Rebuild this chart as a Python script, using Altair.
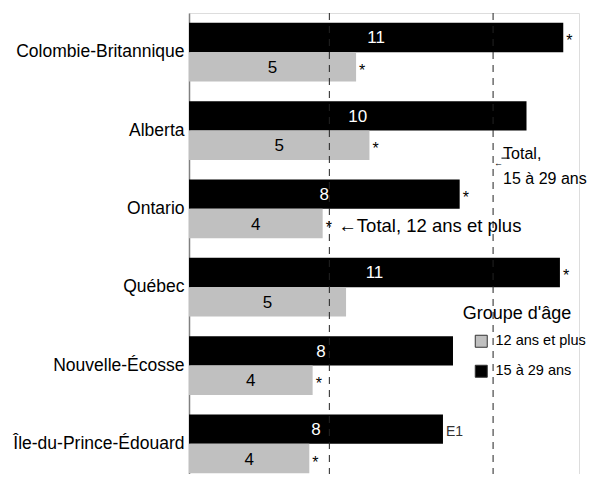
import altair as alt
import pandas as pd

FONT = "Liberation Sans"

provinces = ["Colombie-Britannique", "Alberta", "Ontario", "Québec",
             "Nouvelle-Écosse", "Île-du-Prince-Édouard"]
groups = ["12 ans et plus", "15 à 29 ans"]
age_15_29 = [11.2, 10.1, 8.1, 11.1, 7.9, 7.6]
age_12_plus = [5.0, 5.4, 4.0, 4.7, 3.7, 3.6]
flags_15_29 = ["*", "", "*", "*", "", "E1"]
flags_12_plus = ["*", "*", "*", "", "*", "*"]
total_12_plus = 4.2
total_15_29 = 9.1

rows = []
for p, v, f in zip(provinces, age_15_29, flags_15_29):
    rows.append({"province": p, "group": groups[1], "value": v, "flag": f})
for p, v, f in zip(provinces, age_12_plus, flags_12_plus):
    rows.append({"province": p, "group": groups[0], "value": v, "flag": f})
df = pd.DataFrame(rows)

totals_df = pd.DataFrame({"value": [total_12_plus, total_15_29]})

y_enc = alt.Y("province:N", sort=provinces,
              scale=alt.Scale(paddingInner=0.25, paddingOuter=0.125, range=[0, 470]),
              axis=alt.Axis(title=None, domainColor="#808080", domainWidth=1.5,
                            ticks=False, labelFontSize=17.5, labelFont=FONT,
                            labelColor="#000000", labelPadding=5, labelLimit=400))
yoff = alt.YOffset("group:N", sort=[groups[1], groups[0]])
x_enc = alt.X("value:Q", scale=alt.Scale(domain=[0, 12], range=[0, 401]), axis=None)
y_plain = alt.Y("province:N", sort=provinces)

base = alt.Chart(df)

bars = base.mark_bar().encode(
    x=x_enc, y=y_enc, yOffset=yoff,
    color=alt.Color("group:N",
                    scale=alt.Scale(domain=groups, range=["#c0c0c0", "#000000"]),
                    legend=alt.Legend(title=None, orient="none", legendX=285, legendY=321,
                                      symbolType="square", symbolSize=144,
                                      symbolStrokeColor="#333333", symbolStrokeWidth=1,
                                      labelFont=FONT, labelFontSize=14.5, labelColor="#000000",
                                      labelOffset=7, rowPadding=13, padding=0)),
)

values = base.transform_calculate(mid="datum.value / 2").mark_text(
    font=FONT, fontSize=17, baseline="middle", align="center", dy=1
).encode(
    x=alt.X("mid:Q"), y=y_plain, yOffset=yoff,
    text=alt.Text("value:Q", format=".0f"),
    color=alt.condition(alt.datum.group == groups[1], alt.value("white"), alt.value("black")),
)

stars = base.transform_filter(alt.datum.flag == "*").mark_text(
    font=FONT, fontSize=16, align="left", baseline="middle", dx=3, dy=4, color="#000000"
).encode(x="value:Q", y=y_plain, yOffset=yoff, text="flag:N")

e1 = base.transform_filter(alt.datum.flag == "E1").mark_text(
    font=FONT, fontSize=14, align="left", baseline="middle", dx=3, dy=3, color="#333333"
).encode(x="value:Q", y=y_plain, yOffset=yoff, text="flag:N")

rules = alt.Chart(totals_df).mark_rule(strokeDash=[7, 6], color="#222222", strokeWidth=1).encode(
    x="value:Q")

ann1_df = pd.DataFrame({"value": [total_12_plus], "province": ["Ontario"],
                        "group": [groups[0]], "label": ["←Total, 12 ans et plus"]})
ann1 = alt.Chart(ann1_df).mark_text(
    font=FONT, fontSize=18.5, align="left", baseline="middle", dx=9, dy=2, color="#000000"
).encode(x="value:Q", y=y_plain, yOffset=yoff, text="label:N")

ann2_df = pd.DataFrame({"value": [total_15_29], "province": ["Alberta"],
                        "label": [["Total,", "15 à 29 ans"]]})
ann2 = alt.Chart(ann2_df).mark_text(
    font=FONT, fontSize=16, align="left", baseline="alphabetic", dx=10, dy=28,
    lineHeight=25, color="#000000"
).encode(x="value:Q", y=y_plain, text="label")

arrow2 = alt.Chart(ann2_df).mark_text(
    font=FONT, fontSize=9, align="left", baseline="middle", dx=1, dy=32,
    color="#000000", text="←"
).encode(x="value:Q", y=y_plain)

leader_df = pd.DataFrame({"value": [total_15_29 + 0.25], "value2": [total_15_29 + 0.5],
                          "province": ["Alberta"]})
leader = alt.Chart(leader_df).mark_rule(color="#000000", strokeWidth=1).encode(
    x="value:Q", x2="value2:Q", y=alt.Y("province:N", sort=provinces, bandPosition=0.97))

title_df = pd.DataFrame({"value": [8.19], "province": ["Québec"], "label": ["Groupe d'âge"]})
legend_title = alt.Chart(title_df).mark_text(
    font=FONT, fontSize=18, align="left", baseline="alphabetic", dy=32, color="#000000"
).encode(x="value:Q", y=y_plain, text="label:N")

chart = alt.layer(bars, values, stars, e1, rules, ann1, ann2, arrow2, leader, legend_title).properties(
    width=390, height=461,
    autosize=alt.AutoSizeParams(type="none"),
    padding={"left": 181, "top": 5, "right": 8, "bottom": 0},
).configure_view(stroke=None).configure(font=FONT)

chart.save("out.html", embed_options={"renderer": "svg", "actions": False})
